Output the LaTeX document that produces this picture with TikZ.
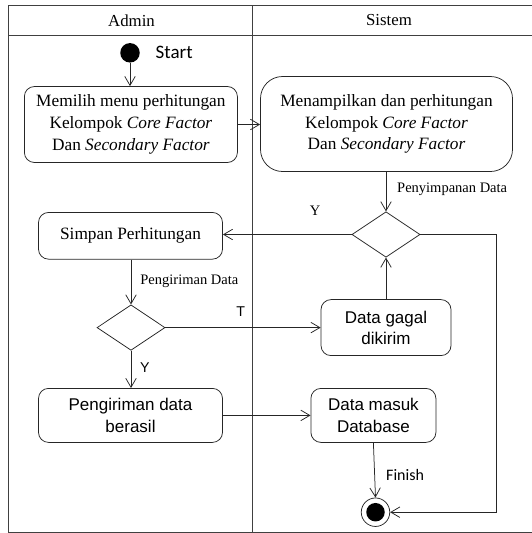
\documentclass[tikz,border=0pt]{standalone}
\usepackage{fontspec}
\setmainfont{Liberation Serif}
\newfontfamily\arialfont{Liberation Sans}
\newfontfamily\calibrifont{Carlito}
\usetikzlibrary{arrows.meta,shapes.geometric}

\begin{document}
\begin{tikzpicture}[x=1pt,y=-1pt,
  line/.style={draw=black!85, line width=0.75pt},
  flow/.style={line, -{Straight Barb[length=9pt,width=10.5pt,line width=0.75pt]}},
  act/.style={line, rectangle, rounded corners=#1, inner sep=0pt, align=center},
  act/.default=10pt,
  serifbox/.style={font=\fontsize{17.3}{21.8}\selectfont},
  sansbox/.style={font=\arialfont\fontsize{17}{21.3}\selectfont},
  decision/.style={line, diamond, inner sep=0pt, minimum width=68pt, minimum height=45.5pt},
  guard/.style={font=\fontsize{14.5}{16}\selectfont, inner sep=0pt},
  sguard/.style={font=\arialfont\fontsize{14.2}{16}\selectfont, inner sep=0pt},
  laneframe/.style={draw=black!75, line width=1pt}]

\useasboundingbox (0,0) rectangle (531,533);

% swimlane frame
\draw[laneframe] (8.5,5) rectangle (534,532);
\draw[laneframe] (8.5,35.5) -- (534,35.5);
\draw[laneframe] (252.7,5) -- (252.7,532);
\node[font=\fontsize{16.8}{20}\selectfont] (hadmin) at (131.5,20.5) {Admin};
\node[font=\fontsize{16.8}{20}\selectfont] (hsistem) at (389,20.5) {Sistem};

% start
\node[circle, fill=black, inner sep=0pt, minimum size=19.5pt] (start) at (130,52.8) {};
\node[font=\calibrifont\fontsize{19}{20}\selectfont, anchor=west, inner sep=0pt] (lstart) at (155.5,52.8) {Start};

% activities
\node[act, serifbox, minimum width=213pt, minimum height=76pt] (pilih) at (130.9,124.5)
  {Memilih menu perhitungan\\Kelompok \textit{Core Factor}\\Dan \textit{Secondary Factor}};
\node[act=22pt, serifbox, minimum width=252pt, minimum height=95pt] (tampil) at (386.5,124)
  {Menampilkan dan perhitungan\\Kelompok \textit{Core Factor}\\Dan \textit{Secondary Factor}};
\node[decision] (d1) at (386,234.5) {};
\node[act, serifbox, minimum width=184pt, minimum height=46.7pt] (simpan) at (130.5,235.8) {Simpan Perhitungan};
\node[decision] (d2) at (131,327.6) {};
\node[act, sansbox, minimum width=130pt, minimum height=56pt] (gagal) at (386,327.6) {Data gagal\\dikirim};
\node[act, sansbox, minimum width=184pt, minimum height=54pt] (kirim) at (130.5,415.4) {Pengiriman data\\berasil};
\node[act, sansbox, minimum width=125pt, minimum height=54pt] (masuk) at (373.4,415.4) {Data masuk\\Database};

% final node
\node[circle, line, fill=white, inner sep=0pt, minimum size=28.5pt] (final) at (375.5,512.2) {};
\node[circle, fill=black, inner sep=0pt, minimum size=18.5pt] (finaldot) at (final) {};

% connectors
\draw[flow] (start) -- (start |- pilih.north);
\draw[flow] (pilih.east) -- (pilih.east -| tampil.west);
\draw[flow] (tampil.south -| d1.north) -- (d1.north);
\draw[flow] (d1.west) -- (d1.west -| simpan.east);
\coordinate (rturn) at (496,234.5);
\coordinate (rbottom) at (496,512.2);
\draw[flow] (d1.east) -- (rturn) -- (rbottom) -- (final.east);
\draw[flow] (simpan.south -| d2.north) -- (d2.north);
\draw[flow] (d2.east) -- (d2.east -| gagal.west);
\draw[flow] (gagal.north) -- (d1.south);
\draw[flow] (d2.south) -- (d2.south |- kirim.north);
\draw[flow] (kirim.east) -- (kirim.east -| masuk.west);
\draw[flow] (masuk.south) -- (final.north);

% guards and flow labels
\node[guard, anchor=west] (lsimpan) at (397,189) {Penyimpanan Data};
\node[guard] (ly1) at (315,210.5) {Y};
\node[guard, anchor=west] (lkirim) at (140.2,281.4) {Pengiriman Data};
\node[sguard] (lt) at (240.8,312) {T};
\node[sguard] (ly2) at (144.8,367.5) {Y};
\node[font=\calibrifont\fontsize{16}{18}\selectfont, anchor=west, inner sep=0pt] (lfinish) at (386,475) {Finish};

\end{tikzpicture}
\end{document}
